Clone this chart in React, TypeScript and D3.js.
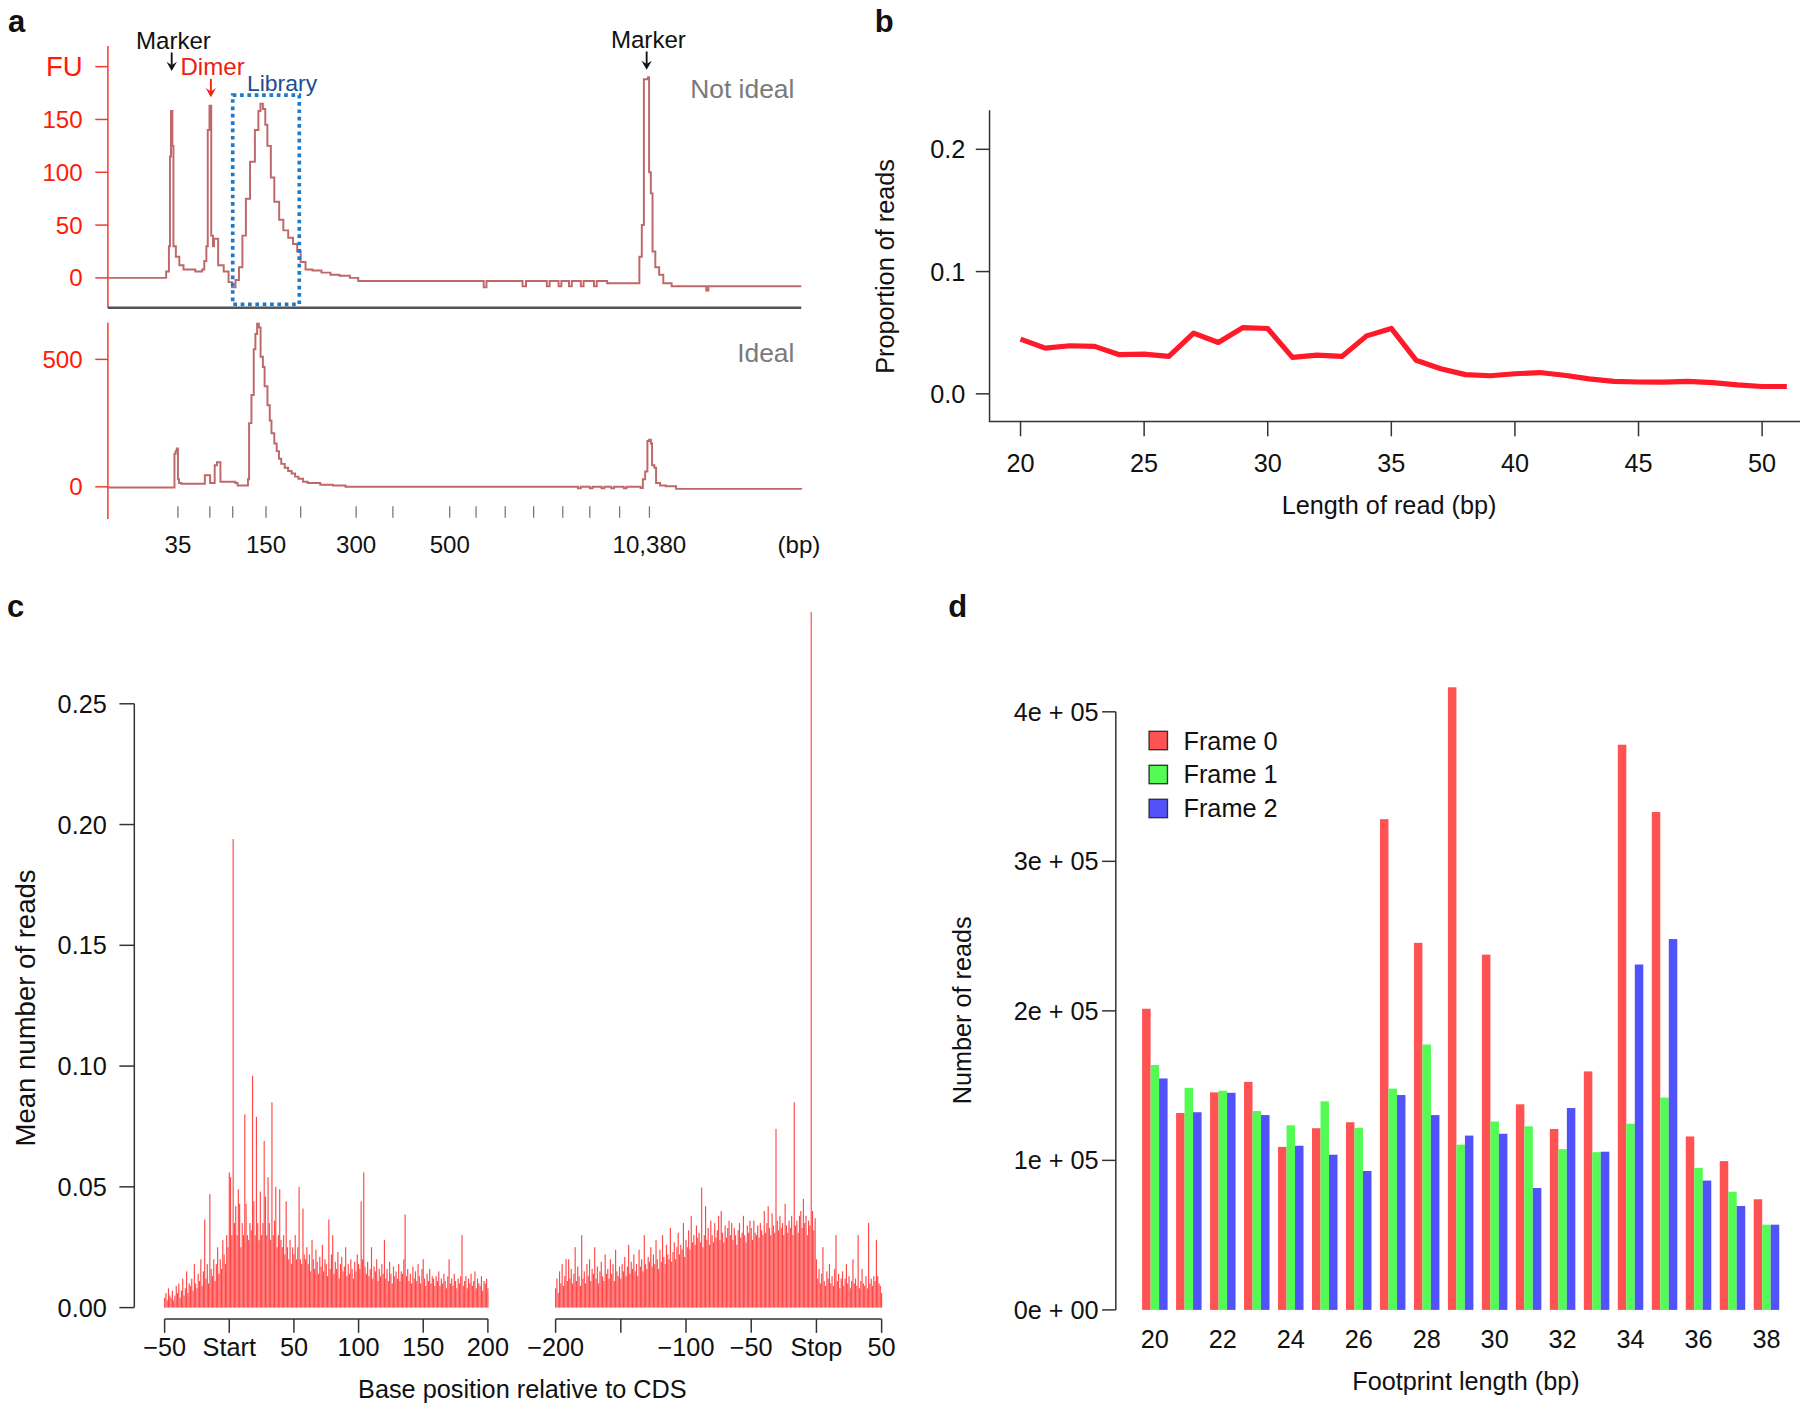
import React, { useEffect, useRef } from "react";
import * as d3 from "d3";

// ---------- panel a : Bioanalyzer traces (x = migration time, y = FU) ----------
const ladderTime = [10.1, 14.7, 18.0, 22.8, 27.8, 35.8, 41.1, 49.3, 53.1, 57.3, 61.4, 65.6, 69.5, 73.8, 78.1];
const ladderLabels = ["35", "", "", "150", "", "300", "", "500", "", "", "", "", "", "", "10,380"];

const notIdealTrace: [number, number][] = [
    [0, 0], [7.6, 0], [8.4, 6], [8.8, 30], [8.95, 115], [9.1, 158], [9.3, 125], [9.45, 30], [9.8, 20],
    [10.3, 12], [10.9, 8], [12.6, 6], [13.6, 8], [13.9, 16], [14.2, 30], [14.4, 140], [14.65, 163],
    [14.9, 40], [15.15, 30], [15.3, 37], [15.7, 37], [15.9, 12], [16.7, 6], [17.4, -4], [17.9, -9],
    [18.4, -2], [18.9, 10], [19.4, 40], [19.9, 75], [20.5, 110], [21.2, 140], [21.7, 158], [22.0, 165],
    [22.35, 160], [22.7, 145], [23.0, 125], [23.5, 95], [24.0, 72], [24.7, 55], [25.3, 45], [26.0, 38],
    [26.7, 32], [27.3, 25], [27.8, 15], [28.5, 8], [29.5, 7], [30.8, 5], [32.1, 3], [33.4, 2], [34.9, 0],
    [36.1, -3], [53.9, -3], [54.2, -9], [54.6, -3], [59.5, -3], [59.8, -8], [60.3, -3], [63.0, -3],
    [63.3, -8], [63.7, -3], [65.0, -8], [65.4, -3], [66.5, -8], [66.9, -3], [68.2, -8], [68.6, -3],
    [70.1, -8], [70.5, -3], [72.0, -5], [76.3, -5], [76.65, 20], [77.0, 50], [77.3, 188], [77.9, 190],
    [78.05, 100], [78.3, 80], [78.55, 25], [78.95, 10], [79.5, 3], [80.1, -5], [81.3, -8], [86.0, -8],
    [86.3, -12], [86.6, -8], [100, -8]
];

const idealTrace: [number, number][] = [
    [0, -3], [9.4, -3], [9.6, 130], [9.77, 140], [9.93, 150], [10.1, 30], [10.26, 15], [10.6, 12],
    [13.9, 12], [13.98, 45], [14.57, 45], [14.74, 15], [15.23, 15], [15.4, 85], [15.73, 96], [16.06, 96],
    [16.23, 20], [18.38, 15], [18.71, 5], [19.87, 5], [20.2, 30], [20.36, 250], [20.7, 360], [21.03, 540],
    [21.27, 600], [21.52, 640], [21.77, 625], [22.02, 510], [22.35, 470], [22.6, 395], [23.01, 320],
    [23.34, 260], [23.59, 210], [24.0, 170], [24.34, 140], [24.67, 110], [25.0, 90], [25.5, 75],
    [25.99, 62], [26.49, 52], [26.99, 40], [27.48, 32], [28.15, 20], [28.81, 15], [30.63, 8], [32.45, 5],
    [34.27, 0], [67.55, 0], [67.8, -6], [68.2, 0], [69.5, -6], [69.9, 0], [71.2, -6], [71.6, 0],
    [72.6, -6], [73.0, 0], [74.4, -6], [74.8, 0], [76.82, -5], [77.15, 30], [77.48, 60], [77.81, 180],
    [78.06, 185], [78.31, 170], [78.48, 85], [78.81, 75], [79.06, 15], [79.64, 5], [80.46, 2],
    [81.95, -8], [100, -10]
];

const fuTicksTop = [0, 50, 100, 150, 200];
const fuTickLabelsTop = ["0", "50", "100", "150", "FU"];
const fuTicksBottom = [0, 500];

const annotations = [
    { label: "Marker", t: 9.2, tipFu: 196, color: "#111111" },
    { label: "Dimer", t: 14.85, tipFu: 171, color: "#f0200f" },
    { label: "Marker", t: 77.7, tipFu: 197, color: "#111111" }
];
const libraryBox = { t0: 18.0, t1: 27.6, fuTop: 173, fuBottom: -25 };

// ---------- panel b : read length distribution ----------
const readLengths = [20, 21, 22, 23, 24, 25, 26, 27, 28, 29, 30, 31, 32, 33, 34, 35,
    36, 37, 38, 39, 40, 41, 42, 43, 44, 45, 46, 47, 48, 49, 50, 51];
const readProportion = [0.0447, 0.0374, 0.0393, 0.0388, 0.032, 0.0325, 0.0306, 0.0496, 0.042, 0.0542,
    0.0534, 0.0298, 0.0317, 0.0306, 0.0474, 0.0535, 0.0275, 0.0205, 0.0157, 0.0148, 0.0164, 0.0174,
    0.0152, 0.0122, 0.0102, 0.0097, 0.0096, 0.0102, 0.0092, 0.0073, 0.006, 0.006];

// ---------- panel c : metagene around start / stop ----------
const startPositions = d3.range(-50, 201);
const startMeanReads = [
    .004, .006, .003, .008, .005, .004, .007, .003, .005, .009,
    .006, .010, .004, .007, .012, .005, .008, .015, .006, .010,
    .009, .012, .007, .018, .010, .008, .014, .011, .020, .009,
    .015, .0365, .012, .018, .010, .047, .016, .013, .020, .011,
    .018, .025, .014, .020, .016, .028, .022, .018, .030, .025,
    .056, .054, .030, .194, .035, .042, .030, .049, .043, .025,
    .035, .030, .080, .043, .030, .028, .035, .032, .096, .044,
    .030, .079, .035, .028, .048, .030, .035, .069, .046, .030,
    .054, .035, .028, .085, .030, .036, .050, .025, .030, .049,
    .028, .025, .030, .022, .044, .025, .020, .028, .018, .025,
    .022, .030, .020, .025, .050, .020, .018, .041, .022, .020,
    .025, .018, .022, .015, .028, .020, .016, .024, .019, .014,
    .021, .017, .026, .015, .020, .018, .013, .0365, .016, .022,
    .030, .014, .019, .016, .023, .012, .018, .021, .015, .017,
    .025, .013, .018, .014, .020, .016, .012, .019, .015, .022,
    .018, .016, .044, .020, .056, .017, .014, .019, .013, .016,
    .025, .012, .017, .015, .020, .011, .016, .013, .018, .014,
    .028, .012, .016, .011, .019, .014, .010, .017, .013, .015,
    .012, .018, .011, .015, .014, .020, .0385, .013, .016, .011,
    .014, .010, .017, .012, .015, .011, .018, .013, .010, .016,
    .020, .012, .009, .014, .011, .016, .010, .013, .012, .009,
    .013, .011, .015, .009, .012, .010, .014, .011, .008, .013,
    .020, .010, .012, .009, .014, .011, .008, .012, .010, .013,
    .030, .009, .011, .013, .008, .012, .010, .014, .009, .011,
    .015, .008, .012, .010, .009, .013, .007, .011, .010, .012,
    .008
];
const stopPositions = d3.range(-200, 51);
const stopMeanReads = [
    .008, .012, .006, .015, .010, .018, .009, .013, .020, .011,
    .020, .012, .016, .010, .014, .025, .011, .017, .013, .009,
    .030, .012, .015, .010, .018, .013, .020, .011, .016, .014,
    .025, .012, .017, .010, .015, .019, .013, .011, .022, .014,
    .016, .012, .020, .014, .018, .011, .024, .015, .013, .017,
    .012, .018, .015, .021, .013, .017, .026, .014, .019, .016,
    .022, .015, .018, .013, .024, .017, .020, .015, .030, .018,
    .016, .021, .019, .025, .017, .022, .018, .028, .020, .016,
    .024, .019, .030, .021, .018, .026, .022, .020, .033, .019,
    .023, .027, .020, .025, .031, .022, .026, .024, .035, .021,
    .028, .025, .032, .024, .038, .027, .030, .026, .034, .029,
    .031, .027, .0497, .025, .030, .042, .028, .033, .026, .036,
    .030, .027, .035, .029, .032, .038, .028, .040, .031, .027,
    .034, .029, .033, .036, .030, .035, .028, .033, .030, .026,
    .032, .035, .029, .031, .038, .030, .027, .034, .031, .036,
    .033, .028, .036, .031, .030, .034, .029, .035, .032, .030,
    .040, .031, .035, .042, .033, .030, .039, .034, .031, .074,
    .036, .032, .038, .033, .035, .030, .043, .034, .031, .036,
    .033, .038, .030, .085, .034, .036, .031, .038, .040, .033,
    .045, .035, .038, .030, .036, .034, .288, .040, .032, .037,
    .020, .012, .016, .010, .014, .025, .011, .009, .015, .012,
    .018, .010, .013, .009, .016, .030, .011, .014, .008, .012,
    .015, .009, .012, .018, .010, .013, .008, .011, .020, .010,
    .012, .009, .030, .008, .011, .016, .010, .009, .013, .008,
    .035, .010, .012, .009, .013, .011, .028, .013, .010, .009,
    .006
];
const startTicks = [-50, 0, 50, 100, 150, 200];
const startTickLabels = ["\u221250", "Start", "50", "100", "150", "200"];
const stopTicks = [-200, -150, -100, -50, 0, 50];
const stopTickLabels = ["\u2212200", "", "\u2212100", "\u221250", "Stop", "50"];
const meanReadTicks = [0, 0.05, 0.1, 0.15, 0.2, 0.25];

// ---------- panel d : reading frame per footprint length ----------
const footprintLengths = [20, 21, 22, 23, 24, 25, 26, 27, 28, 29, 30, 31, 32, 33, 34, 35, 36, 37, 38];
const frame0 = [201400, 131700, 145500, 152500, 109000, 121500, 125500, 328200, 245500, 416400, 237600,
    137500, 121000, 159500, 378000, 333000, 116000, 99500, 74000];
const frame1 = [163800, 148500, 146600, 133000, 123500, 139500, 121800, 148000, 177500, 110500, 126000,
    122800, 107500, 105500, 124500, 142000, 95000, 79000, 57000];
const frame2 = [154800, 132200, 145200, 130300, 109800, 103800, 92900, 143700, 130300, 116600, 117800,
    81500, 135000, 105800, 231000, 248000, 86500, 69500, 57000];
const frameNames = ["Frame 0", "Frame 1", "Frame 2"];
const countTicks = [0, 100000, 200000, 300000, 400000];
const countTickLabels = ["0e + 00", "1e + 05", "2e + 05", "3e + 05", "4e + 05"];

const W = 1568;
const H = 1229;

export default function App() {
    const ref = useRef<SVGSVGElement>(null);

    useEffect(() => {
        const svg = d3.select(ref.current);
        svg.selectAll("*").remove();

        const sans = "'Liberation Sans', Arial, Helvetica, sans-serif";
        const narrow = "'Liberation Sans Narrow', 'Liberation Sans', Arial, sans-serif";
        const red = "#ff4747";

        const txt = (g: any, x: number, y: number, s: string, o: any = {}) => {
            const t = g.append("text")
                .attr("x", x).attr("y", y).text(s)
                .attr("font-family", o.family ?? sans)
                .attr("font-size", o.size ?? 22)
                .attr("fill", o.fill ?? "#111")
                .attr("text-anchor", o.anchor ?? "middle");
            if (o.weight) t.attr("font-weight", o.weight);
            if (o.baseline) t.attr("dominant-baseline", o.baseline);
            if (o.rotate) t.attr("transform", `rotate(${o.rotate},${x},${y})`);
            return t;
        };
        const seg = (g: any, x1: number, y1: number, x2: number, y2: number, stroke: string, w = 1.3) =>
            g.append("line").attr("x1", x1).attr("y1", y1).attr("x2", x2).attr("y2", y2)
                .attr("stroke", stroke).attr("stroke-width", w);

        // panel letters
        txt(svg, 7, 28, "a", { anchor: "start", weight: "bold", size: 27, family: narrow });
        txt(svg, 762, 28, "b", { anchor: "start", weight: "bold", size: 27, family: narrow });
        txt(svg, 6, 537, "c", { anchor: "start", weight: "bold", size: 27, family: narrow });
        txt(svg, 826, 537, "d", { anchor: "start", weight: "bold", size: 27, family: narrow });

        // ================= panel a =================
        const gA = svg.append("g");
        const xA = d3.scaleLinear().domain([0, 100]).range([94, 698]);
        const yTop = d3.scaleLinear().domain([0, 150]).range([242, 104]);
        const yBot = d3.scaleLinear().domain([0, 500]).range([424, 313]);
        const axisRed = "#f23a2a";
        const traceColor = "#bf6868";

        seg(gA, 94, 40, 94, 268, axisRed, 1.3);
        fuTicksTop.forEach((v, i) => {
            seg(gA, 83, yTop(v), 94, yTop(v), axisRed, 1.3);
            txt(gA, 72, yTop(v), fuTickLabelsTop[i], {
                anchor: "end", baseline: "central", fill: "#ff1a0a", family: narrow,
                size: fuTickLabelsTop[i] === "FU" ? 24 : 21
            });
        });
        seg(gA, 94, 268, 698, 268, "#555", 2);

        seg(gA, 94, 281, 94, 452, axisRed, 1.3);
        fuTicksBottom.forEach(v => {
            seg(gA, 83, yBot(v), 94, yBot(v), axisRed, 1.3);
            txt(gA, 72, yBot(v), String(v), { anchor: "end", baseline: "central", fill: "#ff1a0a", family: narrow, size: 21 });
        });

        ladderTime.forEach((t, i) => {
            seg(gA, xA(t), 441, xA(t), 451, "#777", 1.1);
            if (ladderLabels[i]) txt(gA, xA(t), 482, ladderLabels[i], { size: 21 });
        });
        txt(gA, 696, 482, "(bp)", { size: 21 });

        const lineTop = d3.line<[number, number]>().x(d => xA(d[0])).y(d => yTop(d[1])).curve(d3.curveStepAfter);
        const lineBot = d3.line<[number, number]>().x(d => xA(d[0])).y(d => yBot(d[1])).curve(d3.curveStepAfter);
        gA.append("path").datum(notIdealTrace).attr("d", lineTop)
            .attr("fill", "none").attr("stroke", traceColor).attr("stroke-width", 1.7);
        gA.append("path").datum(idealTrace).attr("d", lineBot)
            .attr("fill", "none").attr("stroke", traceColor).attr("stroke-width", 1.7);

        gA.append("rect")
            .attr("x", xA(libraryBox.t0)).attr("y", yTop(libraryBox.fuTop))
            .attr("width", xA(libraryBox.t1) - xA(libraryBox.t0))
            .attr("height", yTop(libraryBox.fuBottom) - yTop(libraryBox.fuTop))
            .attr("fill", "none").attr("stroke", "#1f7ac8").attr("stroke-width", 3.2)
            .attr("stroke-dasharray", "3.2 3.2");
        txt(gA, (xA(libraryBox.t0) + xA(libraryBox.t1)) / 2 + 14, yTop(libraryBox.fuTop) - 4, "Library",
            { fill: "#1c4f8f", family: narrow, size: 20 });

        annotations.forEach(a => {
            const x = xA(a.t);
            const tip = yTop(a.tipFu);
            seg(gA, x, tip - 16, x, tip - 5, a.color, 1.6);
            gA.append("path")
                .attr("d", `M${x - 4.5},${tip - 8} L${x},${tip} L${x + 4.5},${tip - 8} L${x},${tip - 5} Z`)
                .attr("fill", a.color);
            txt(gA, x + 1.5, tip - 19, a.label, { fill: a.color, family: narrow, size: 21 });
        });

        txt(gA, 692, 85, "Not ideal", { anchor: "end", fill: "#7a7a7a", family: narrow, size: 23 });
        txt(gA, 692, 315, "Ideal", { anchor: "end", fill: "#7a7a7a", family: narrow, size: 23 });

        // ================= panel b =================
        const gB = svg.append("g");
        const xB = d3.scaleLinear().domain([20, 50]).range([889, 1535]);
        const yB = d3.scaleLinear().domain([0, 0.2]).range([343, 130]);
        gB.append("path").attr("d", "M862,96 V367 H1568").attr("fill", "none").attr("stroke", "#333").attr("stroke-width", 1.3);
        [20, 25, 30, 35, 40, 45, 50].forEach(v => {
            seg(gB, xB(v), 367, xB(v), 380, "#333", 1.3);
            txt(gB, xB(v), 411, String(v), { family: narrow, size: 22 });
        });
        [0, 0.1, 0.2].forEach(v => {
            seg(gB, 850, yB(v), 862, yB(v), "#333", 1.3);
            txt(gB, 841, yB(v), d3.format(".1f")(v), { anchor: "end", baseline: "central", family: narrow, size: 22 });
        });
        const lineB = d3.line<number>().x((_, i) => xB(readLengths[i])).y(d => yB(d));
        gB.append("path").datum(readProportion).attr("d", lineB)
            .attr("fill", "none").attr("stroke", "#ff1a2a").attr("stroke-width", 4.5)
            .attr("stroke-linejoin", "round");
        txt(gB, 771, 232, "Proportion of reads", { rotate: -90, baseline: "central", size: 22 });
        txt(gB, 1210, 448, "Length of read (bp)", { size: 22 });

        // ================= panel c =================
        const gC = svg.append("g");
        const yC = d3.scaleLinear().domain([0, 0.25]).range([1139, 613]);
        const xC1 = d3.scaleLinear().domain([-50, 200]).range([143.4, 425]);
        const xC2 = d3.scaleLinear().domain([-200, 50]).range([484, 768]);
        seg(gC, 117, yC(0), 117, yC(0.25), "#333", 1.3);
        meanReadTicks.forEach(v => {
            seg(gC, 104, yC(v), 117, yC(v), "#333", 1.3);
            txt(gC, 93, yC(v), d3.format(".2f")(v), { anchor: "end", baseline: "central", size: 22 });
        });
        const bw = 1.0;
        gC.append("g").selectAll("rect").data(startMeanReads).join("rect")
            .attr("x", (_, i) => xC1(startPositions[i]) - bw / 2).attr("width", bw)
            .attr("y", d => yC(d)).attr("height", d => yC(0) - yC(d)).attr("fill", red);
        gC.append("g").selectAll("rect").data(stopMeanReads).join("rect")
            .attr("x", (_, i) => xC2(stopPositions[i]) - bw / 2).attr("width", bw)
            .attr("y", d => yC(d)).attr("height", d => yC(0) - yC(d)).attr("fill", red);
        const axC = (sc: any, ticks: number[], labels: string[]) => {
            seg(gC, sc(ticks[0]), 1149, sc(ticks[ticks.length - 1]), 1149, "#333", 1.3);
            ticks.forEach((v, i) => {
                seg(gC, sc(v), 1149, sc(v), 1161, "#333", 1.3);
                if (labels[i]) txt(gC, sc(v), 1181, labels[i], { size: 22 });
            });
        };
        axC(xC1, startTicks, startTickLabels);
        axC(xC2, stopTicks, stopTickLabels);
        txt(gC, 22, 878, "Mean number of reads", { rotate: -90, baseline: "central", family: narrow, size: 24 });
        txt(gC, 455, 1218, "Base position relative to CDS", { size: 22 });

        // ================= panel d =================
        const gD = svg.append("g");
        const yD = d3.scaleLinear().domain([0, 400000]).range([1141, 620]);
        const xD = d3.scaleBand<number>().domain(footprintLengths).range([991.2, 1553.6])
            .paddingInner(0.25).paddingOuter(0.125);
        const xF = d3.scaleBand<number>().domain([0, 1, 2]).range([0, xD.bandwidth()]);
        const frameColors = ["#ff5252", "#55fb55", "#5252fb"];
        const frames = [frame0, frame1, frame2];
        seg(gD, 972, yD(0), 972, yD(400000), "#333", 1.3);
        countTicks.forEach((v, i) => {
            seg(gD, 960, yD(v), 972, yD(v), "#333", 1.3);
            txt(gD, 957, yD(v), countTickLabels[i], { anchor: "end", baseline: "central", family: narrow, size: 22 });
        });
        footprintLengths.forEach((L, gi) => {
            frames.forEach((f, fi) => {
                gD.append("rect")
                    .attr("x", (xD(L) as number) + (xF(fi) as number)).attr("width", xF.bandwidth())
                    .attr("y", yD(f[gi])).attr("height", yD(0) - yD(f[gi]))
                    .attr("fill", frameColors[fi]);
            });
            if (gi % 2 === 0) txt(gD, (xD(L) as number) + xD.bandwidth() / 2, 1174, String(L), { size: 22 });
        });
        frameNames.forEach((n, i) => {
            const y = 637 + i * 29.6;
            gD.append("rect").attr("x", 1001).attr("y", y).attr("width", 16).attr("height", 16)
                .attr("fill", frameColors[i]).attr("stroke", "#333").attr("stroke-width", 1.2);
            txt(gD, 1031, y + 8, n, { anchor: "start", baseline: "central", size: 22 });
        });
        txt(gD, 838, 880, "Number of reads", { rotate: -90, baseline: "central", size: 22 });
        txt(gD, 1277, 1211, "Footprint length (bp)", { size: 22 });
    }, []);

    return (
        <svg ref={ref} width={1800} height={1411} viewBox={`0 0 ${W} ${H}`}
            style={{ position: "absolute", left: 0, top: 0, background: "#fff" }} />
    );
}
